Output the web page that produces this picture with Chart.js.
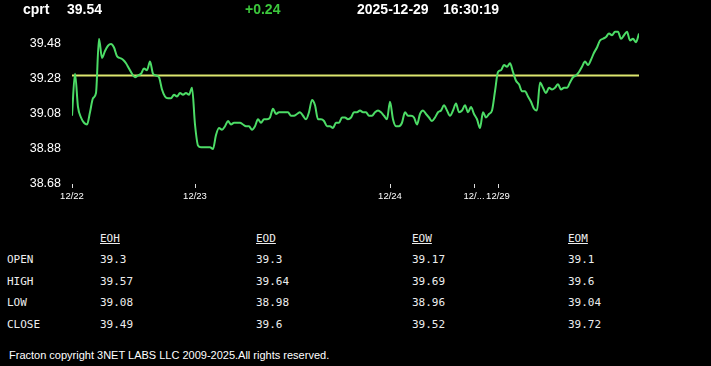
<!DOCTYPE html>
<html>
<head>
<meta charset="utf-8">
<script src="https://cdn.jsdelivr.net/npm/chart.js@4.4.1/dist/chart.umd.min.js"></script>
<style>
  body { margin: 0; background: #000; }
  #wrap { position: relative; width: 711px; height: 366px; background: #000; overflow: hidden; }
  #myChart { position: absolute; left: 0; top: 0; }
  .hd { position: absolute; top: 1px; line-height: 16px; font: bold 14px "Liberation Sans", Arial, sans-serif; color: #fff; white-space: nowrap; }
  .tb { position: absolute; line-height: 14px; font-size: 11px; font-family: "DejaVu Sans Mono", monospace; color: #eee; white-space: nowrap; }
  .foot { position: absolute; left: 9px; top: 349px; line-height: 13px; font: 11px "Liberation Sans", Arial, sans-serif; color: #fff; white-space: nowrap; }
</style>
</head>
<body>
<div id="wrap">
  <canvas id="myChart" width="711" height="210"></canvas>
  <div class="hd" style="left:23px">cprt</div>
  <div class="hd" id="last" style="left:67px"></div>
  <div class="hd" id="chg" style="left:245px;color:#3cc83c"></div>
  <div class="hd" style="left:357px">2025-12-29</div>
  <div class="hd" style="left:443px">16:30:19</div>
  <div class="foot">Fracton copyright 3NET LABS LLC 2009-2025.All rights reserved.</div>
</div>
<script>
// price series (12/22 .. 12/29)
const prices = [
  39.07, 39.31, 39.12, 39.06, 39.03, 39.02, 39.09, 39.17, 39.20, 39.51,
  39.40, 39.44, 39.47, 39.48, 39.46, 39.41, 39.40, 39.39, 39.37, 39.34,
  39.31, 39.29, 39.30, 39.31, 39.34, 39.33, 39.38, 39.31, 39.30, 39.29,
  39.22, 39.18, 39.17, 39.17, 39.19, 39.18, 39.20, 39.19, 39.20, 39.19,
  39.23, 39.02, 38.90, 38.89, 38.89, 38.89, 38.89, 38.88, 38.96, 39.00,
  38.99, 39.01, 39.04, 39.02, 39.03, 39.03, 39.03, 39.02, 39.01, 39.01,
  38.99, 39.01, 39.05, 39.03, 39.05, 39.05, 39.06, 39.11, 39.08, 39.09,
  39.09, 39.09, 39.09, 39.07, 39.07, 39.08, 39.09, 39.07, 39.05, 39.09,
  39.16, 39.13, 39.05, 39.05, 39.04, 39.01, 39.01, 39.00, 39.03, 39.03,
  39.06, 39.06, 39.05, 39.06, 39.09, 39.09, 39.10, 39.09, 39.09, 39.07,
  39.07, 39.09, 39.10, 39.09, 39.07, 39.05, 39.15, 39.05, 39.01, 39.01,
  39.03, 39.09, 39.07, 39.07, 39.06, 39.02, 39.08, 39.10, 39.08, 39.06,
  39.04, 39.06, 39.09, 39.10, 39.13, 39.10, 39.07, 39.10, 39.14, 39.09,
  39.10, 39.13, 39.09, 39.12, 39.08, 39.05, 39.00, 39.09, 39.06, 39.08,
  39.10, 39.21, 39.32, 39.33, 39.36, 39.35, 39.37, 39.32, 39.27, 39.25,
  39.21, 39.21, 39.18, 39.15, 39.11, 39.10, 39.26, 39.23, 39.20, 39.23,
  39.22, 39.23, 39.25, 39.22, 39.23, 39.23, 39.26, 39.29, 39.30, 39.32,
  39.35, 39.38, 39.36, 39.39, 39.43, 39.46, 39.50, 39.51, 39.52, 39.54,
  39.53, 39.55, 39.55, 39.51, 39.53, 39.55, 39.50, 39.51, 39.49, 39.54
];
const openPrice = 39.3;
const lastPrice = 39.54;
const change = '+0.24';

const xTickIdx = [0, 41, 106, 134, 142];
const xTickLabels = ['12/22', '12/23', '12/24', '12/...', '12/29'];
const yTicks = [38.68, 38.88, 39.08, 39.28, 39.48];

// summary table
const tableCols = ['EOH', 'EOD', 'EOW', 'EOM'];
const tableRows = ['OPEN', 'HIGH', 'LOW', 'CLOSE'];
const eoh = ['39.3', '39.57', '39.08', '39.49'];
const eod = ['39.3', '39.64', '38.98', '39.6'];
const eow = ['39.17', '39.69', '38.96', '39.52'];
const eom = ['39.1', '39.6', '39.04', '39.72'];

document.getElementById('last').textContent = lastPrice.toFixed(2);
document.getElementById('chg').textContent = change;

const wrap = document.getElementById('wrap');
function cell(txt, x, y, under) {
  const d = document.createElement('div');
  d.className = 'tb';
  d.style.left = x + 'px';
  d.style.top = y + 'px';
  if (under) d.style.textDecoration = 'underline';
  d.textContent = txt;
  wrap.appendChild(d);
}
const colVals = [eoh, eod, eow, eom];
tableCols.forEach((c, j) => cell(c, 100 + 156 * j, 231.5, true));
tableRows.forEach((r, i) => {
  const top = 253 + 21.6 * i;
  cell(r, 7, top);
  colVals.forEach((col, j) => cell(col[i], 100 + 156 * j, top));
});

const ctx = document.getElementById('myChart');

new Chart(ctx, {
  type: 'line',
  data: {
    datasets: [{
      data: prices.map((v, i) => ({x: i, y: v})),
      borderColor: '#4cdc66',
      borderWidth: 2,
      pointRadius: 0,
      cubicInterpolationMode: 'monotone'
    }, {
      data: prices.map((v, i) => ({x: i, y: openPrice})),
      borderColor: '#dce66e',
      borderWidth: 2,
      pointRadius: 0
    }]
  },
  options: {
    responsive: false,
    animation: false,
    layout: { padding: { top: 23, right: 72, left: 0, bottom: 0 } },
    plugins: { legend: { display: false }, tooltip: { enabled: false } },
    scales: {
      x: {
        type: 'linear',
        min: 0,
        max: prices.length - 1,
        afterBuildTicks: s => { s.ticks = xTickIdx.map(v => ({value: v})); },
        afterFit: s => { s.height = 26; },
        border: { display: false },
        grid: { drawOnChartArea: false, drawTicks: true, tickLength: 4, color: '#ddd' },
        ticks: {
          autoSkip: false, maxRotation: 0, padding: 3,
          color: '#fff',
          font: { family: 'Liberation Sans, Arial', size: 9.5 },
          callback: v => xTickLabels[xTickIdx.indexOf(v)]
        }
      },
      y: {
        min: 38.68,
        max: 39.6,
        afterBuildTicks: s => { s.ticks = yTicks.map(v => ({value: v})); },
        afterFit: s => { s.width = 72; },
        border: { display: false },
        grid: { display: false, drawTicks: false },
        ticks: {
          padding: 11,
          color: '#fff',
          font: { family: 'Liberation Sans, Arial', size: 12.5 },
          callback: v => v.toFixed(2)
        }
      }
    }
  }
});
</script>
</body>
</html>
